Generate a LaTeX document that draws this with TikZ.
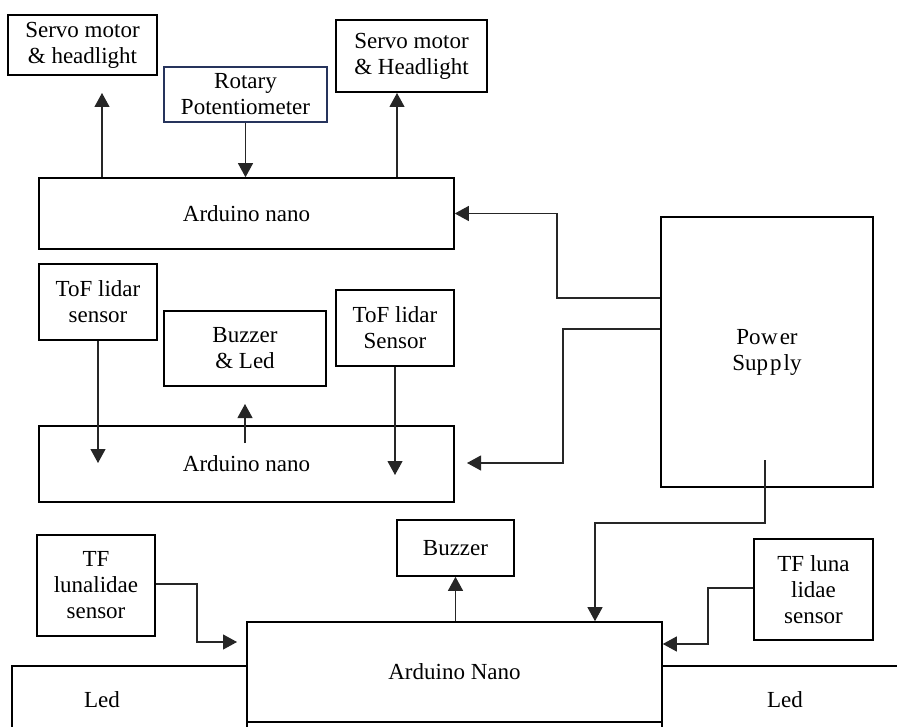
\documentclass[tikz,border=0pt]{standalone}
\usepackage{fontspec}
\setmainfont{Liberation Serif}
\usetikzlibrary{arrows.meta}
\begin{document}
\begin{tikzpicture}[x=1pt,y=-1pt,
  box/.style={draw=black,line width=1.6pt,inner sep=0pt,align=center,font=\fontsize{23}{26}\selectfont},
  lbl/.style={inner sep=0pt,align=center,font=\fontsize{23}{26}\selectfont},
  arr/.style={draw=black!85,line width=1.1pt,-{Triangle[length=14pt,width=15pt]}},
  wire/.style={draw=black!85,line width=1.1pt}]
\clip (0,0) rectangle (897,727);
\fill[white] (0,0) rectangle (897,727);
% boxes
\node[box,minimum width=149pt,minimum height=60pt] (servoL) at (82.5,45) {Servo motor\\\& headlight};
\node[box,draw={rgb,255:red,38;green,52;blue,92},minimum width=163pt,minimum height=55pt] (rot) at (245.5,94.5) {Rotary\\Potentiometer};
\node[box,minimum width=151pt,minimum height=72pt] (servoR) at (411.5,56) {Servo motor\\\& Headlight};
\node[box,minimum width=415pt,minimum height=71pt] (ard1) at (246.5,213.5) {Arduino nano};
\node[box,minimum width=212pt,minimum height=270pt] (power) at (767,352) {Po\kern0.5pt w\kern2pt er\\Sup\kern2pt p\kern2pt ly};
\node[box,minimum width=118pt,minimum height=76pt] (tofL) at (98,302) {ToF lidar\\sensor};
\node[box,minimum width=162pt,minimum height=75pt] (buzled) at (245,348.5) {Buzzer\\\& Led};
\node[box,minimum width=118pt,minimum height=76pt] (tofR) at (395,328) {ToF lidar\\Sensor};
\node[box,minimum width=415pt,minimum height=76pt] (ard2) at (246.5,464) {Arduino nano};
\node[box,minimum width=118pt,minimum height=101pt] (tfL) at (96,585.5) {TF\\lunalidae\\sensor};
\node[box,minimum width=117pt,minimum height=56pt] (buzzer) at (455.5,548) {Buzzer};
\node[box,minimum width=119pt,minimum height=101pt] (tfR) at (813.5,589.5) {TF luna\\lidae\\sensor};
\node[box,minimum width=415pt,minimum height=100pt] (ard3) at (454.5,672) {Arduino Nano};
\node[box,minimum width=235pt,minimum height=120pt] (ledLbox) at (129.5,726) {};
\node[box,minimum width=260pt,minimum height=120pt] (ledRbox) at (792,726) {};
\node[lbl] (ledL) at (102,700) {Led};
\node[lbl] (ledR) at (785,700) {Led};
% free ends
\coordinate (tA) at (102,93);
\coordinate (tB) at (397,93);
\coordinate (tC) at (467,463);
\coordinate (sD) at (765,460);
\coordinate (tE) at (98,463);
\coordinate (sF) at (245,443);
\coordinate (tF) at (245,404);
\coordinate (tG) at (395,475);
\coordinate (tH) at (237,642);
% connectors
\draw[arr] (tA |- ard1.north) -- (tA);
\draw[arr] (rot.south) -- (rot.south |- ard1.north);
\draw[arr] (tB |- ard1.north) -- (tB);
\draw[arr] (power.west |- 0,298) -| (557,213.5) -- (ard1.east);
\draw[arr] (power.west |- 0,329) -| (563,463) -- (tC);
\draw[arr] (sD) -- (765,523) -| (ard3.north -| 595,0);
\draw[arr] (tofL.south -| tE) -- (tE);
\draw[arr] (sF) -- (tF);
\draw[arr] (tofR.south) -- (tG);
\draw[arr] (tfL.east |- 0,584) -| (197,642) -- (tH);
\draw[arr] (ard3.north -| buzzer) -- (buzzer.south);
\draw[arr] (tfR.west |- 0,588) -| (708,644) -- (ard3.east |- 0,644);
\end{tikzpicture}
\end{document}
